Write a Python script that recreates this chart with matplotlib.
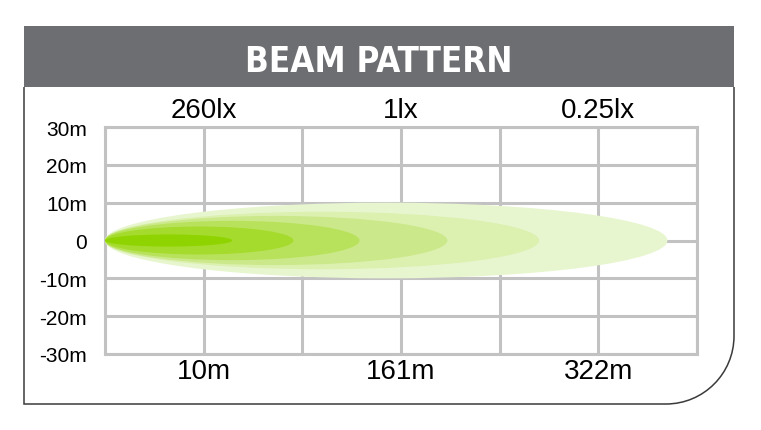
import numpy as np
import matplotlib
matplotlib.use("Agg")
import matplotlib.pyplot as plt
from matplotlib import font_manager
from matplotlib.patches import Ellipse, Rectangle, PathPatch
from matplotlib.path import Path

# ---- data ----
title = "BEAM PATTERN"
grid_columns = [0, 1, 2, 3, 4, 5, 6]
label_positions = [1, 3, 5]
distance_labels = ["10m", "161m", "322m"]
lux_labels = ["260lx", "1lx", "0.25lx"]
y_ticks = [-30, -20, -10, 0, 10, 20, 30]
y_labels = ["-30m", "-20m", "-10m", "0", "10m", "20m", "30m"]
# beam contours (outer -> inner): reach in grid columns, half width in metres
beam_reach = [5.70, 4.40, 3.47, 2.58, 1.91, 1.29]
beam_half_width = [10.0, 7.6, 6.5, 5.2, 3.7, 1.6]
beam_colors = ["#e8f6cf", "#dcf0b0", "#cbe98a", "#b9e25c", "#a5db2c", "#8fd400"]

# ---- pick a condensed bold face for the title if one exists ----
fonts = font_manager.fontManager.ttflist
names = {f.name for f in fonts}
title_kw = None
if "Liberation Sans Narrow" in names:
    title_kw = dict(family="Liberation Sans Narrow", fontweight="bold", fontsize=29)
else:
    cond = [f for f in fonts if str(f.stretch) in ("condensed", "semi-condensed")
            and f.weight in ("bold", 700)]
    if cond:
        title_kw = dict(family=cond[0].name, fontstretch="condensed",
                        fontweight="bold", fontsize=25)
if title_kw is None:
    title_kw = dict(family="Liberation Sans", fontweight="bold", fontsize=24)

W, H = 761, 431
fig = plt.figure(figsize=(W / 100, H / 100), dpi=100)
fig.patch.set_facecolor("white")

# header band
hx0, hx1, hy_top, hy_bot = 24, 734, 27, 88
fig.patches.append(Rectangle((hx0 / W, (H - hy_bot) / H), (hx1 - hx0) / W,
                             (hy_bot - hy_top) / H, transform=fig.transFigure,
                             facecolor="#6d6e71", edgecolor="none", zorder=0))
fig.text(379 / W, (H - 72) / H, title, color="white",
         ha="center", va="baseline", **title_kw)

# frame with rounded bottom-right corner
R = 68
k = 0.5523
yb = H - 405
verts = [(hx0, H - hy_bot), (hx0, yb), (hx1 - R, yb),
         (hx1 - R + k * R, yb), (hx1, yb + R - k * R), (hx1, yb + R),
         (hx1, H - hy_bot)]
codes = [Path.MOVETO, Path.LINETO, Path.LINETO,
         Path.CURVE4, Path.CURVE4, Path.CURVE4, Path.LINETO]
verts = [(x / W, y / H) for x, y in verts]
fig.patches.append(PathPatch(Path(verts, codes), transform=fig.transFigure,
                             facecolor="none", edgecolor="#3a3a3a", lw=1.1))

# plot area
ax = fig.add_axes([105 / W, (H - 355) / H, 592 / W, 227 / H])
ax.set_xlim(grid_columns[0], grid_columns[-1])
ax.set_ylim(y_ticks[0], y_ticks[-1])
ax.set_facecolor("white")

grid_color = "#c2c2c2"
ax.set_xticks(grid_columns, minor=True)
ax.set_xticks(label_positions, distance_labels)
ax.set_yticks(y_ticks, y_labels)
ax.set_axisbelow(True)
ax.grid(which="both", axis="x", color=grid_color, lw=2.2)
ax.grid(which="major", axis="y", color=grid_color, lw=2.2)
for s in ax.spines.values():
    s.set_color(grid_color)
    s.set_linewidth(2.2)
    s.set_zorder(0.6)

label_family = ["Liberation Sans", "DejaVu Sans"]
ax.tick_params(axis="x", which="both", length=0, pad=3, labelsize=20)
ax.tick_params(axis="y", which="both", length=0, pad=13, labelsize=15)
for lab in ax.get_xticklabels() + ax.get_yticklabels():
    lab.set_family(label_family)

top = ax.secondary_xaxis("top")
top.set_xticks(label_positions, lux_labels)
top.tick_params(length=0, pad=3, labelsize=20)
for lab in top.get_xticklabels():
    lab.set_family(label_family)
for s in top.spines.values():
    s.set_visible(False)

for reach, hw, c in zip(beam_reach, beam_half_width, beam_colors):
    ax.add_patch(Ellipse((reach / 2, 0), reach, 2 * hw, facecolor=c,
                         edgecolor="none", zorder=2))

fig.savefig("out.png", dpi=100)
